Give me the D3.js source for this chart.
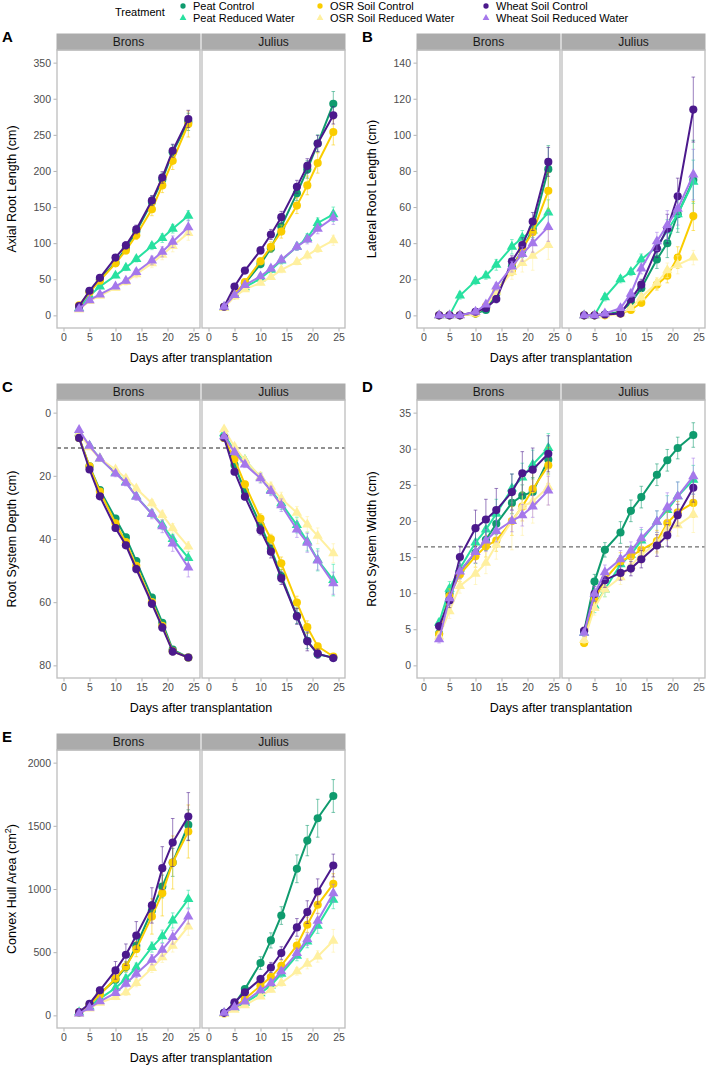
<!DOCTYPE html>
<html>
<head>
<meta charset="utf-8">
<script src="https://cdn.jsdelivr.net/npm/d3@7"></script>
<style>
  body { margin: 0; background: #fff; }
  svg { font-family: "Liberation Sans", Arial, sans-serif; }
</style>
</head>
<body>
<svg id="chart" width="709" height="1069"></svg>
<script>
// days of measurement and groups
const days = [3, 5, 7, 10, 12, 14, 17, 19, 21, 24];
const cultivars = ["Brons", "Julius"];
const treatments = ["Peat Control", "Peat Reduced Water", "OSR Soil Control",
                    "OSR Soil Reduced Water", "Wheat Soil Control", "Wheat Soil Reduced Water"];
const colors = ["#0f9b6e", "#28e1a0", "#facd00", "#fff0a0", "#4b198c", "#a578eb"];
const xTicks = [0, 5, 10, 15, 20, 25];

// A - axial root length (cm), rows follow treatments
const axialBrons = [
  [12, 33, 50, 73, 93, 116, 157, 188, 226, 268],
  [10, 27, 40, 55, 66, 78, 96, 107, 120, 138],
  [14, 32, 48, 72, 90, 111, 147, 180, 214, 265],
  [8, 20, 27, 38, 46, 57, 72, 84, 96, 114],
  [13, 34, 52, 80, 97, 119, 159, 191, 228, 272],
  [9, 21, 29, 40, 48, 60, 76, 88, 102, 122]
];
const axialJulius = [
  [12, 28, 44, 71, 93, 123, 169, 202, 238, 293],
  [11, 28, 39, 51, 63, 76, 95, 107, 128, 140],
  [12, 29, 46, 75, 95, 116, 152, 180, 211, 254],
  [10, 26, 36, 45, 53, 63, 74, 83, 92, 104],
  [12, 40, 62, 90, 112, 136, 178, 207, 238, 277],
  [12, 28, 42, 54, 65, 77, 95, 105, 120, 135]
];
const axialBronsSE = [
  [2, 3, 3, 4, 5, 6, 8, 9, 10, 12], [2, 2, 3, 3, 4, 4, 5, 6, 6, 7],
  [2, 3, 3, 4, 5, 6, 9, 10, 12, 18], [2, 2, 2, 3, 4, 5, 6, 7, 8, 10],
  [2, 3, 3, 4, 5, 6, 7, 8, 9, 12], [2, 2, 2, 3, 4, 4, 6, 7, 8, 10]
];
const axialJuliusSE = [
  [2, 3, 3, 5, 6, 8, 10, 12, 12, 17], [2, 2, 3, 4, 4, 5, 5, 6, 7, 10],
  [2, 3, 4, 5, 7, 9, 11, 13, 14, 18], [1, 2, 2, 3, 3, 4, 4, 5, 5, 7],
  [2, 3, 4, 5, 7, 8, 9, 10, 11, 12], [2, 2, 3, 3, 4, 5, 5, 6, 7, 9]
];

// B - lateral root length (cm)
const lateralBrons = [
  [0, 0, 0, 1, 3, 12, 27, 36, 48, 81],
  [0, 0, 11, 19, 22, 28, 38, 43, 47, 57],
  [0, 0, 0, 1, 5, 13, 25, 37, 46, 69],
  [0, 0, 0, 1, 5, 13, 24, 29, 33, 39],
  [0, 0, 0, 2, 4, 9, 30, 39, 52, 85],
  [0, 0, 0, 2, 6, 16, 27, 34, 40, 49]
];
const lateralJulius = [
  [0, 0, 0.5, 2, 7, 15, 31, 40, 56, 75],
  [0, 0, 10, 20, 24, 31, 38, 47, 56, 74],
  [0, 0, 0, 1, 3, 7, 17, 22, 32, 55],
  [0, 0, 0, 1, 4, 10, 18, 25, 28, 32],
  [0, 0, 0.5, 1, 9, 17, 37, 48, 66, 114],
  [0, 0, 1, 4, 12, 26, 41, 50, 59, 78]
];
const lateralBronsSE = [
  [0, 0, 0.3, 0.5, 1, 2, 3, 4, 5, 13], [0, 0, 2, 2, 2, 3, 4, 4, 5, 7],
  [0, 0, 0.3, 0.5, 1, 2, 3, 4, 4, 10], [0, 0, 0.3, 0.5, 1, 2, 4, 5, 8, 8],
  [0, 0, 0.3, 1, 1, 2, 3, 4, 5, 8], [0, 0, 0.3, 1, 1, 2, 3, 4, 5, 8]
];
const lateralJuliusSE = [
  [0, 0, 0.3, 1, 2, 3, 5, 8, 10, 22], [0, 0, 2, 2, 2, 3, 4, 6, 8, 12],
  [0, 0, 0.3, 0.5, 1, 2, 3, 4, 6, 8], [0, 0, 0.3, 0.5, 1, 2, 3, 4, 5, 4],
  [0, 0, 0.3, 1, 2, 3, 5, 8, 10, 18], [0, 0, 0.5, 1, 2, 3, 5, 8, 9, 14]
];

// C - root system depth (cm)
const depthBrons = [
  [8, 17, 24.5, 33.5, 39.5, 47, 58.5, 66.5, 75, 77.5],
  [6.5, 10.5, 14.5, 19, 22, 26.5, 32, 35.5, 40, 46],
  [8, 17, 25, 35, 41, 48.5, 60, 67.5, 75.5, 77.5],
  [6.5, 11, 14.5, 18, 20.8, 24, 28.7, 32.4, 36.6, 42.4],
  [8, 18, 26.5, 36.5, 42, 49.5, 60.5, 68, 75.6, 77.5],
  [5.5, 10.5, 14.5, 19.3, 22.2, 26.6, 32.1, 36, 41.4, 49]
];
const depthJulius = [
  [8, 16.6, 24.8, 35.6, 43, 51.7, 64.3, 72.2, 76.5, 77.5],
  [6.5, 12.4, 15, 20.5, 24.5, 28.7, 35.6, 40.8, 46.6, 53],
  [8, 14.7, 22.7, 33.5, 40, 47.7, 60.1, 67.9, 74, 77.2],
  [5.3, 10.8, 15, 20.3, 23.5, 27.2, 31.7, 35.4, 39, 44.5],
  [7.9, 18.7, 26.6, 37.2, 44, 52.4, 64.5, 72.4, 76.3, 77.7],
  [7.5, 12.5, 16.4, 20.8, 24.8, 29.3, 37, 41.2, 46.8, 54]
];
const depthBronsSE = [
  [0.5, 0.5, 0.8, 1, 1, 1, 1, 1, 1, 0.5], [0.5, 0.5, 0.8, 1, 1, 1, 1.2, 1.5, 1.5, 2],
  [0.5, 0.5, 0.8, 1, 1, 1, 1, 1, 1, 0.5], [0.5, 0.5, 0.8, 1, 1, 1, 1.2, 1.5, 1.5, 1.5],
  [0.5, 0.5, 0.8, 1, 1, 1.2, 1.2, 1.2, 1.2, 0.5], [0.5, 0.5, 0.8, 1, 1, 1.2, 1.5, 2, 2.5, 3]
];
const depthJuliusSE = [
  [0.5, 1, 1, 1.5, 2, 2, 2.5, 2.5, 1, 0.5], [0.5, 1, 1, 1.5, 1.5, 2, 2.5, 3, 3.5, 5],
  [0.5, 1, 1, 1.5, 1.5, 2, 2, 2, 1, 0.5], [0.5, 1, 1, 1.5, 1.5, 2, 2, 2.5, 2.5, 3],
  [0.5, 1, 1, 1.5, 2, 2, 2.5, 3, 1.5, 0.5], [0.5, 1, 1, 1.5, 1.5, 2, 2.5, 3, 3, 3.5]
];

// D - root system width (cm)
const widthBrons = [
  [4.4, 10, 13, 15.6, 17.4, 19.6, 22.5, 23.5, 24, 28.5],
  [5.9, 10.6, 13.4, 17, 18.8, 21, 24.5, 26, 27.8, 30.1],
  [4.3, 9.6, 12.6, 15.1, 16.5, 17.3, 20, 22, 24.4, 27.7],
  [4, 7.5, 11, 12.7, 14.2, 16.7, 20, 22, 22.7, 24.7],
  [5.4, 9, 15, 19, 20.2, 21.5, 24, 26.6, 27.1, 29.3],
  [3.6, 9.3, 13, 15.7, 17.3, 18.6, 20, 20.8, 22, 24.2]
];
const widthJulius = [
  [4.7, 11.6, 16, 18.4, 21.4, 23.3, 26.4, 28.4, 30.1, 31.9],
  [4.5, 8.3, 10.5, 14, 15.3, 17.3, 19.9, 21.5, 23.4, 25.7],
  [3.1, 9.1, 11.9, 14.4, 15.1, 16, 17.2, 19.7, 21.2, 22.5],
  [3.5, 7.95, 10.5, 12.2, 13.8, 15.3, 17, 18.8, 19.4, 20.9],
  [4.8, 9.9, 11.8, 12.8, 13.4, 14.7, 16.6, 18, 20.8, 24.6],
  [4.5, 9.9, 12.9, 14.7, 15.9, 17.6, 19.9, 21.9, 23.4, 26.2]
];
const widthBronsSE = [
  [0.5, 1, 1, 1.5, 1.5, 1.5, 1.5, 1.5, 2, 2], [0.5, 1, 1, 1.5, 1.5, 2, 2, 2, 2, 2],
  [0.5, 1, 1, 1.5, 1.5, 1.5, 2, 2, 2.5, 2.5], [0.5, 1, 1, 1.5, 1.5, 2, 4, 4, 3, 2.5],
  [0.5, 1, 1.5, 2.5, 2.8, 3, 2.5, 3, 3, 2.5], [0.5, 1, 1, 1.5, 1.5, 1.5, 1.5, 1.5, 1.5, 2]
];
const widthJuliusSE = [
  [0.5, 1, 1, 1.5, 1.5, 1.5, 1.5, 1.5, 1.5, 1.7], [0.5, 1, 1, 1.2, 1.2, 1.5, 1.5, 2, 2, 2],
  [0.5, 1, 1, 1.2, 1.2, 1.2, 1.5, 1.5, 1.5, 2], [0.5, 1, 1, 1, 1, 1.2, 1.5, 1.5, 1.5, 2.5],
  [0.5, 1, 1, 1, 1, 1.2, 1.5, 1.5, 1.5, 2], [0.5, 1, 1, 1.2, 1.2, 1.5, 1.5, 2, 2, 2.5]
];

// E - convex hull area (cm2)
const hullBrons = [
  [20, 80, 171, 282, 382, 551, 830, 1020, 1210, 1507],
  [25, 70, 132, 216, 290, 379, 540, 625, 751, 920],
  [25, 82, 165, 292, 387, 524, 783, 967, 1210, 1455],
  [15, 55, 100, 145, 182, 256, 374, 459, 551, 704],
  [26, 92, 198, 356, 480, 632, 870, 1165, 1368, 1573],
  [15, 60, 111, 177, 250, 329, 440, 519, 619, 783]
];
const hullJulius = [
  [20, 92, 208, 414, 593, 790, 1160, 1383, 1560, 1736],
  [15, 60, 100, 175, 237, 329, 472, 585, 709, 914],
  [15, 70, 130, 235, 303, 393, 553, 717, 875, 1041],
  [10, 45, 80, 150, 203, 256, 348, 408, 466, 590],
  [20, 103, 182, 287, 379, 493, 696, 817, 980, 1186],
  [20, 65, 110, 198, 256, 348, 493, 603, 748, 967]
];
const hullBronsSE = [
  [10, 15, 20, 30, 40, 50, 70, 90, 110, 120], [10, 15, 20, 25, 30, 35, 40, 50, 60, 70],
  [10, 15, 20, 30, 40, 60, 140, 180, 210, 210], [10, 10, 15, 20, 25, 30, 35, 40, 50, 70],
  [10, 15, 25, 70, 85, 110, 140, 170, 190, 190], [10, 10, 15, 20, 25, 30, 40, 50, 55, 60]
];
const hullJuliusSE = [
  [10, 15, 20, 50, 60, 70, 110, 120, 150, 130], [10, 10, 15, 20, 25, 30, 40, 50, 60, 70],
  [10, 10, 15, 20, 30, 40, 50, 60, 70, 80], [5, 10, 10, 15, 20, 25, 30, 40, 45, 90],
  [10, 15, 20, 30, 40, 50, 70, 90, 100, 90], [10, 10, 15, 20, 25, 30, 40, 50, 60, 70]
];

const svg = d3.select("#chart");

// panel layout
const panelW = 143, gap = 2, stripH = 16, plotH = 278;

function drawPanel(p) {
  const x = d3.scaleLinear().domain([-1.25, 26.25]);
  const span = p.yMax - p.yMin, pad = span * 0.05;
  const y = d3.scaleLinear()
    .domain(p.reversed ? [p.yMin - pad, p.yMax + pad] : [p.yMax + pad, p.yMin - pad])
    .range([p.top + stripH, p.top + stripH + plotH]);
  const bottom = p.top + stripH + plotH;

  // panel letter
  svg.append("text").attr("x", p.left - 55).attr("y", p.top + 8)
    .attr("font-size", 15).attr("font-weight", "bold").text(p.letter);

  cultivars.forEach((cv, ci) => {
    const x0 = p.left + ci * (panelW + gap);
    x.range([x0, x0 + panelW]);
    const g = svg.append("g");

    // strip
    g.append("rect").attr("x", x0).attr("y", p.top).attr("width", panelW).attr("height", stripH)
      .attr("fill", "#ababab").attr("stroke", "#ababab");
    g.append("text").attr("x", x0 + panelW / 2).attr("y", p.top + stripH / 2)
      .attr("dy", "0.36em").attr("text-anchor", "middle").attr("font-size", 12)
      .attr("fill", "#1a1a1a").text(cv);

    // x axis
    const xa = g.append("g").attr("transform", `translate(0,${bottom})`)
      .call(d3.axisBottom(x).tickValues(xTicks).tickSize(3.5).tickPadding(2));
    xa.select(".domain").remove();
    xa.selectAll("line").attr("stroke", "#b3b3b3");
    xa.selectAll("text").attr("fill", "#4d4d4d").attr("font-size", 10.5)
      .style("font-family", "Liberation Sans, Arial, sans-serif");

    // y axis only on first facet
    if (ci === 0) {
      const ya = g.append("g").attr("transform", `translate(${x0},0)`)
        .call(d3.axisLeft(y).tickValues(p.ticks).tickFormat(d3.format("d")).tickSize(3.5).tickPadding(2.5));
      ya.select(".domain").remove();
      ya.selectAll("line").attr("stroke", "#b3b3b3");
      ya.selectAll("text").attr("fill", "#4d4d4d").attr("font-size", 10.5)
        .style("font-family", "Liberation Sans, Arial, sans-serif");
    }

    // reference line
    if (p.hline !== undefined) {
      g.append("line").attr("x1", x0).attr("x2", x0 + panelW)
        .attr("y1", y(p.hline)).attr("y2", y(p.hline))
        .attr("stroke", "#6e6e6e").attr("stroke-width", 1.3).attr("stroke-dasharray", "4,3");
    }

    const means = p.data[ci], errs = p.err[ci];
    const line = d3.line().x((d, i) => x(days[i])).y(d => y(d));

    treatments.forEach((t, ti) => {
      const col = colors[ti];
      const eg = g.append("g").attr("stroke", col).attr("stroke-opacity", 0.55).attr("stroke-width", 1);
      means[ti].forEach((m, i) => {
        const e = errs[ti][i];
        if (!e) return;
        const xx = x(days[i]);
        eg.append("line").attr("x1", xx).attr("x2", xx).attr("y1", y(m - e)).attr("y2", y(m + e));
        [m - e, m + e].forEach(v => eg.append("line")
          .attr("x1", xx - 1.8).attr("x2", xx + 1.8).attr("y1", y(v)).attr("y2", y(v)));
      });
      g.append("path").datum(means[ti]).attr("d", line)
        .attr("fill", "none").attr("stroke", col).attr("stroke-width", 2);
      const sym = ti % 2 === 0 ? d3.symbol(d3.symbolCircle, 52) : d3.symbol(d3.symbolTriangle, 46);
      g.selectAll(null).data(means[ti]).enter().append("path")
        .attr("d", sym)
        .attr("transform", (d, i) => `translate(${x(days[i])},${y(d)})`)
        .attr("fill", col);
    });

    // panel border
    g.append("rect").attr("x", x0).attr("y", p.top + stripH).attr("width", panelW).attr("height", plotH)
      .attr("fill", "none").attr("stroke", "#bdbdbd").attr("stroke-width", 1.3);
  });

  // axis titles
  const fullW = 2 * panelW + gap;
  svg.append("text").attr("x", p.left + fullW / 2).attr("y", bottom + 29)
    .attr("dy", "0.36em").attr("text-anchor", "middle").attr("font-size", 12.5)
    .text("Days after transplantation");
  const yt = svg.append("text")
    .attr("transform", `translate(${p.left - 41},${p.top + stripH + plotH / 2}) rotate(-90)`)
    .attr("text-anchor", "middle").attr("font-size", 12.5);
  yt.append("tspan").text(p.title);
  if (p.sup) {
    yt.append("tspan").attr("font-size", 9).attr("dy", -5).text(p.sup);
    yt.append("tspan").attr("dy", 5).text(")");
  }
}

drawPanel({ letter: "A", left: 57, top: 34, yMin: 0, yMax: 350, ticks: d3.range(0, 351, 50),
  title: "Axial Root Length (cm)", data: [axialBrons, axialJulius], err: [axialBronsSE, axialJuliusSE] });
drawPanel({ letter: "B", left: 417, top: 34, yMin: 0, yMax: 140, ticks: d3.range(0, 141, 20),
  title: "Lateral Root Length (cm)", data: [lateralBrons, lateralJulius], err: [lateralBronsSE, lateralJuliusSE] });
drawPanel({ letter: "C", left: 57, top: 384, yMin: 0, yMax: 80, ticks: d3.range(0, 81, 20), reversed: true,
  hline: 11.2, title: "Root System Depth (cm)", data: [depthBrons, depthJulius], err: [depthBronsSE, depthJuliusSE] });
drawPanel({ letter: "D", left: 417, top: 384, yMin: 0, yMax: 35, ticks: d3.range(0, 36, 5),
  hline: 16.4, title: "Root System Width (cm)", data: [widthBrons, widthJulius], err: [widthBronsSE, widthJuliusSE] });
drawPanel({ letter: "E", left: 57, top: 734, yMin: 0, yMax: 2000, ticks: d3.range(0, 2001, 500),
  title: "Convex Hull Area (cm", sup: "2", data: [hullBrons, hullJulius], err: [hullBronsSE, hullJuliusSE] });

// legend
const legend = svg.append("g").attr("font-size", 11);
legend.append("text").attr("x", 115).attr("y", 12).attr("dy", "0.36em").text("Treatment");
const legX = [183, 320, 486];
treatments.forEach((t, ti) => {
  const col = Math.floor(ti / 2), row = ti % 2;
  const ly = row === 0 ? 6 : 18;
  const sym = row === 0 ? d3.symbol(d3.symbolCircle, 22) : d3.symbol(d3.symbolTriangle, 20);
  legend.append("path").attr("d", sym).attr("transform", `translate(${legX[col]},${ly})`)
    .attr("fill", colors[ti]);
  legend.append("text").attr("x", legX[col] + 10).attr("y", ly).attr("dy", "0.36em").text(t);
});
</script>
</body>
</html>
